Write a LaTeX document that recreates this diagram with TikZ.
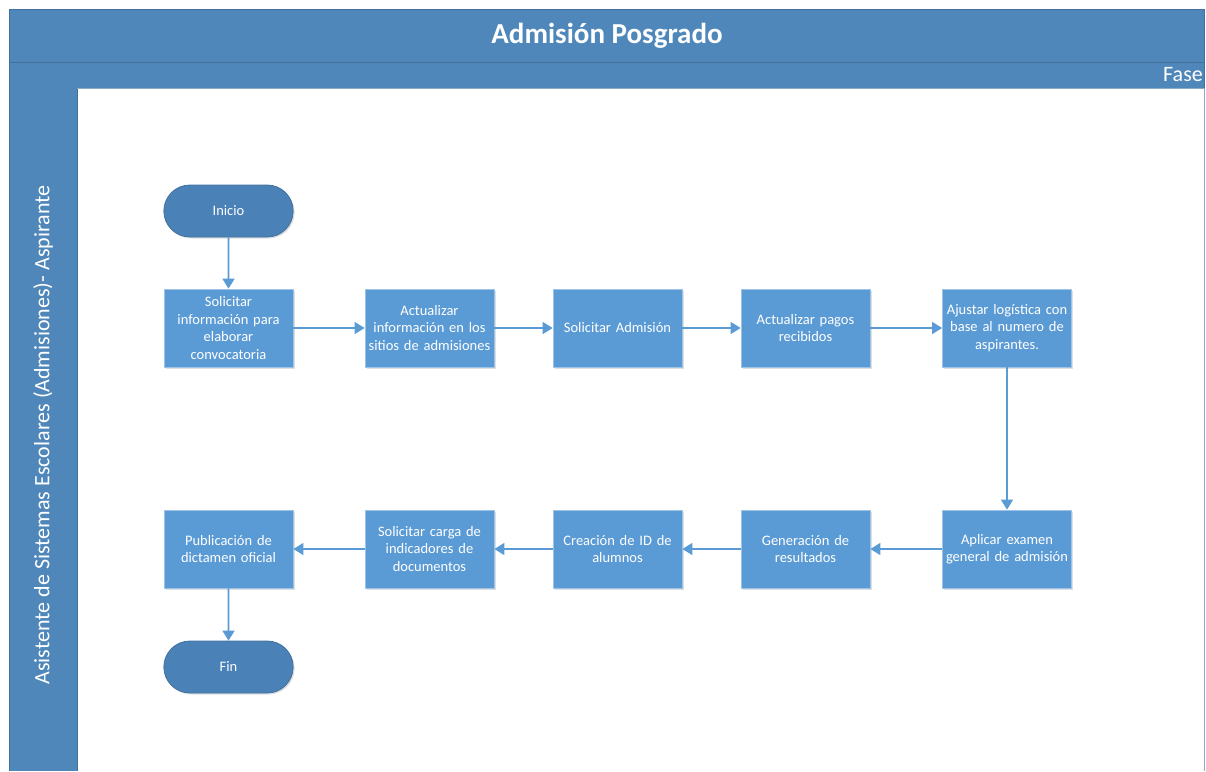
\documentclass[tikz,border=0pt]{standalone}
\usepackage{fontspec}
\setmainfont{Carlito}
\usetikzlibrary{arrows.meta,shapes.misc,shadows}
\definecolor{band}{HTML}{4F87BA}
\definecolor{bandline}{HTML}{41719C}
\definecolor{boxfill}{HTML}{5B9BD5}
\definecolor{boxline}{HTML}{9DC3E6}
\definecolor{termfill}{HTML}{4A82B8}
\definecolor{arrowc}{HTML}{5B9BD5}
\tikzset{
  proc/.style={rectangle, fill=boxfill, draw=boxline, line width=0.8pt,
    minimum width=129pt, minimum height=78pt, text width=124pt, inner xsep=2pt, align=center,
    text=white, font=\fontsize{14.5}{17.5}\selectfont,
    drop shadow={shadow xshift=1.5pt, shadow yshift=-1.5pt, opacity=0.25}},
  term/.style={rounded rectangle, fill=termfill, draw=bandline, line width=0.8pt,
    minimum width=136pt, minimum height=52pt, text=white,
    font=\fontsize{14.5}{17.5}\selectfont,
    drop shadow={shadow xshift=1.5pt, shadow yshift=-1.5pt, opacity=0.25}},
  conn/.style={draw=arrowc, line width=1.6pt, -{Triangle[width=12pt,length=10pt]}},
}
\begin{document}
\begin{tikzpicture}[x=1pt,y=-1pt]
\useasboundingbox (0,0) rectangle (1206,771);
\fill[white] (0,0) rectangle (1206,771);
% bands
\fill[band] (9,9) rectangle (1204,88);
\draw[bandline, line width=1pt] (9,9) rectangle (1204,62);
\draw[bandline, line width=1pt] (9,62) rectangle (1204,88);
\fill[band] (9,88) rectangle (77,771);
\draw[bandline, line width=1pt] (9,88) -- (9,771);
\draw[bandline, line width=1pt] (77,88) -- (77,771);
\draw[bandline!60, line width=0.6pt] (77,88) -- (1204,88);
\draw[bandline!60, line width=0.6pt] (1204,88) -- (1204,771);
\node[text=white, font=\fontsize{29}{34}\selectfont\bfseries] (title) at (607,36) {Admisión Posgrado};
\node[text=white, font=\fontsize{22}{26}\selectfont, anchor=east, inner sep=1pt] (fase) at (1204,75) {Fase};
\node[text=white, font=\fontsize{22}{26}\selectfont, rotate=90] (lane) at (43,435) {Asistente de Sistemas Escolares (Admisiones)- Aspirante};
% nodes
\node[term] (ini) at (228.5,211) {Inicio};
\node[proc] (b1) at (228.5,328) {Solicitar\\información para\\elaborar\\convocatoria};
\node[proc] (b2) at (429.5,328) {Actualizar\\información en los\\sitios de admisiones};
\node[proc] (b3) at (617.5,328) {Solicitar Admisión};
\node[proc] (b4) at (805.5,328) {Actualizar pagos\\recibidos};
\node[proc] (b5) at (1007,328) {Ajustar logística con\\base al numero de\\aspirantes.};
\node[proc] (b6) at (1007,549) {Aplicar examen\\general de admisión};
\node[proc] (b7) at (805.5,549) {Generación de\\resultados};
\node[proc] (b8) at (617.5,549) {Creación de ID de\\alumnos};
\node[proc] (b9) at (429.5,549) {Solicitar carga de\\indicadores de\\documentos};
\node[proc] (b10) at (228.5,549) {Publicación de\\dictamen oficial};
\node[term] (fin) at (228.5,667) {Fin};
% connectors
\draw[conn] (ini) -- (b1);
\draw[conn] (b1) -- (b2);
\draw[conn] (b2) -- (b3);
\draw[conn] (b3) -- (b4);
\draw[conn] (b4) -- (b5);
\draw[conn] (b5) -- (b6);
\draw[conn] (b6) -- (b7);
\draw[conn] (b7) -- (b8);
\draw[conn] (b8) -- (b9);
\draw[conn] (b9) -- (b10);
\draw[conn] (b10) -- (fin);
\end{tikzpicture}
\end{document}
